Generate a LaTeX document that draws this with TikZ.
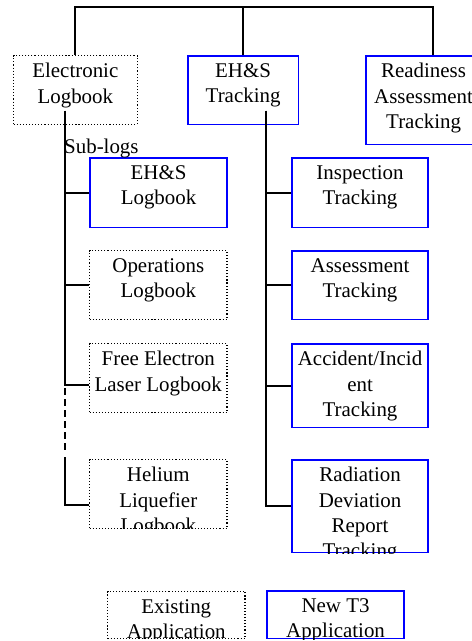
\documentclass[tikz,border=0pt]{standalone}
\usepackage{fontspec}
\setmainfont{Liberation Serif}
\usetikzlibrary{calc}
\begin{document}
\begin{tikzpicture}[x=1bp,y=-1bp,
  blk/.style={line width=1.8bp,black},
  newbox/.style={draw=blue,line width=1.6bp,inner sep=0pt},
  oldbox/.style={draw=black,dotted,line width=1.1bp,inner sep=0pt},
  lbl/.style={font=\fontsize{21}{25.5}\selectfont,align=center,inner sep=0pt,anchor=north}]
\useasboundingbox (0,0) rectangle (472,641);
\clip (0,0) rectangle (472,641);
% box macro: name, x1, y1, x2, y2, style, text
\newcommand{\tbox}[7]{%
  \node[#6,minimum width={#4-#2},minimum height={#5-#3},anchor=north west] (#1) at (#2,#3) {};
  \begin{scope}
    \clip (#1.north west) rectangle (#1.south east);
    \node[lbl] (#1-t) at ($(#1.north)+(0,8)$) {#7};
  \end{scope}}
\tbox{elog}{13}{55}{137}{124}{oldbox}{Electronic\\Logbook}
\tbox{ehst}{187}{55}{298}{124}{newbox}{EH\&S\\Tracking}
\tbox{ready}{365}{55}{481}{144}{newbox}{Readiness\\Assessment\\Tracking}
\tbox{ehslog}{89}{157}{227}{227}{newbox}{EH\&S\\Logbook}
\tbox{opslog}{89}{250}{227}{319}{oldbox}{Operations\\Logbook}
\tbox{fellog}{89}{343}{227}{412}{oldbox}{Free Electron\\Laser Logbook}
\tbox{helog}{89}{459}{227}{528}{oldbox}{Helium\\Liquefier\\Logbook}
\tbox{insp}{291}{157}{428}{227}{newbox}{Inspection\\Tracking}
\tbox{assess}{291}{250}{428}{319}{newbox}{Assessment\\Tracking}
\tbox{acc}{291}{343}{428}{427}{newbox}{Accident/Incid\\ent\\Tracking}
\tbox{rad}{291}{459}{428}{552}{newbox}{Radiation\\Deviation\\Report\\Tracking}
\tbox{exist}{107}{591}{245}{638}{oldbox}{Existing\\Application}
\tbox{newt}{266}{590}{404}{638}{newbox}{New T3\\Application}
% top connectors
\coordinate (topl) at (75,7);
\coordinate (topr) at (433,7);
\draw[blk] (elog.north -| topl) -- (topl) -- (topr) -- (ready.north -| topr);
\draw[blk] (ehst.north) -- (ehst.north |- topl);
% left trunk
\coordinate (lt) at (65,111);
\coordinate (b3) at (89,385);
\coordinate (b4) at (89,505);
\coordinate (d1) at (65,388);
\coordinate (d2) at (65,452);
\coordinate (s2) at (65,457);
\draw[blk] (lt) |- (ehslog.west);
\draw[blk] (lt) |- (opslog.west);
\draw[blk] (lt) |- (b3);
\draw[blk,dash pattern=on 7bp off 4bp] (d1) -- (d2);
\draw[blk] (s2) |- (b4);
\node[font=\fontsize{21}{25}\selectfont,anchor=west,inner sep=0pt] (sub) at (64,148) {Sub-logs};
% right trunk
\coordinate (rt) at (266,111);
\draw[blk] (rt) |- (insp.west);
\draw[blk] (rt) |- (assess.west);
\draw[blk] (rt) |- (acc.west);
\draw[blk] (rt) |- (rad.west);
\end{tikzpicture}
\end{document}
